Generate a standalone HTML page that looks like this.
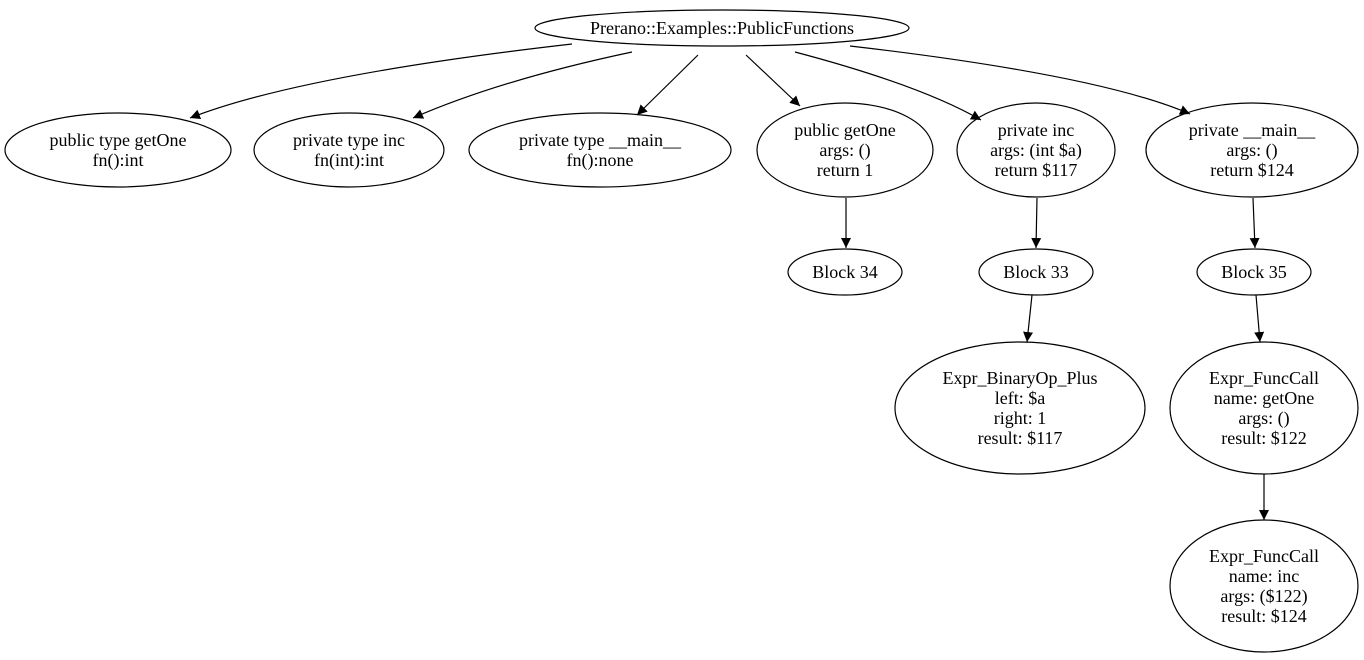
<!DOCTYPE html>
<html><head><meta charset="utf-8"><style>
html,body{margin:0;padding:0;background:#fff;}
svg text{font-family:"Liberation Serif",serif;font-size:18px;fill:#000;text-anchor:middle;}
</style></head><body>
<svg width="1364" height="655" xmlns="http://www.w3.org/2000/svg">
<defs><marker id="a" viewBox="0 0 10 10" refX="10" refY="5" markerWidth="10" markerHeight="10" markerUnits="userSpaceOnUse" orient="auto"><path d="M0,0 L10,5 L0,10 z" fill="#000"/></marker></defs>
<g fill="none" stroke="#000" stroke-width="1.2">
<ellipse cx="722" cy="28" rx="187" ry="18"/>
<ellipse cx="118" cy="150" rx="113" ry="37"/>
<ellipse cx="349" cy="150" rx="95" ry="37"/>
<ellipse cx="600" cy="150" rx="131" ry="37"/>
<ellipse cx="845" cy="150" rx="88" ry="47"/>
<ellipse cx="1036" cy="150" rx="79" ry="47"/>
<ellipse cx="1252" cy="150" rx="106" ry="47"/>
<ellipse cx="845" cy="272" rx="57" ry="23"/>
<ellipse cx="1036" cy="272" rx="57" ry="23"/>
<ellipse cx="1254" cy="272" rx="57" ry="23"/>
<ellipse cx="1020" cy="408" rx="125" ry="66"/>
<ellipse cx="1264" cy="408" rx="94" ry="66"/>
<ellipse cx="1264" cy="586" rx="94" ry="66"/>
<g marker-end="url(#a)">
<path d="M572,44 Q300,75 190,118"/>
<path d="M632,52 Q500,80 413,118"/>
<path d="M698,55 L637,115"/>
<path d="M746,55 L800,106"/>
<path d="M795,52 Q920,85 981,120"/>
<path d="M850,46 Q1100,75 1190,114"/>
<path d="M846,198 L846,248"/>
<path d="M1037,198 L1036,248"/>
<path d="M1253,198 L1255,248"/>
<path d="M1032,295 L1027,342"/>
<path d="M1256,295 L1260,342"/>
<path d="M1264,474 L1264,520"/>
</g></g>
<text x="722" y="34">Prerano::Examples::PublicFunctions</text>
<text x="118" y="146">public type getOne</text><text x="118" y="166">fn():int</text>
<text x="349" y="146">private type inc</text><text x="349" y="166">fn(int):int</text>
<text x="600" y="146">private type __main__</text><text x="600" y="166">fn():none</text>
<text x="845" y="136">public getOne</text><text x="845" y="156">args: ()</text><text x="845" y="176">return 1</text>
<text x="1036" y="136">private inc</text><text x="1036" y="156">args: (int $a)</text><text x="1036" y="176">return $117</text>
<text x="1252" y="136">private __main__</text><text x="1252" y="156">args: ()</text><text x="1252" y="176">return $124</text>
<text x="845" y="278">Block 34</text>
<text x="1036" y="278">Block 33</text>
<text x="1254" y="278">Block 35</text>
<text x="1020" y="384">Expr_BinaryOp_Plus</text><text x="1020" y="404">left: $a</text><text x="1020" y="424">right: 1</text><text x="1020" y="444">result: $117</text>
<text x="1264" y="384">Expr_FuncCall</text><text x="1264" y="404">name: getOne</text><text x="1264" y="424">args: ()</text><text x="1264" y="444">result: $122</text>
<text x="1264" y="562">Expr_FuncCall</text><text x="1264" y="582">name: inc</text><text x="1264" y="602">args: ($122)</text><text x="1264" y="622">result: $124</text>
</svg>
</body></html>
